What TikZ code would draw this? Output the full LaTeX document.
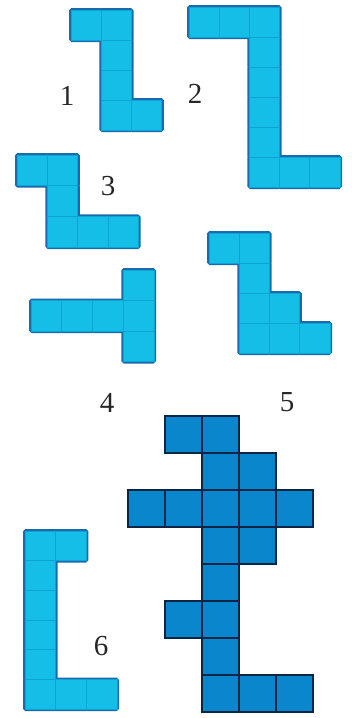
\documentclass[tikz,border=0pt]{standalone}
\usepackage{tikz}
\usepackage{fontspec}
\setmainfont{Liberation Serif}
\definecolor{lfill}{HTML}{14BEE6}
\definecolor{lline}{HTML}{0FA3D2}
\definecolor{lout}{HTML}{1A6AB0}
\definecolor{dfill}{HTML}{0A87CC}
\definecolor{dline}{HTML}{0B2545}
\tikzset{
  lightouter/.style={fill=lfill, draw=lout, line width=4pt, rounded corners=1.2pt},
  lightinner/.style={fill=lfill, draw=lline, line width=0.9pt},
  darkcell/.style={fill=dfill, draw=dline, line width=2pt},
  lbl/.style={font=\fontsize{29}{29}\selectfont, text=black!85, inner sep=0pt}
}
\newcommand\lightpiece[5]{%
  \foreach \c/\r in {#5} \draw[lightouter] ({#1+\c*#3},{#2+\r*#4}) rectangle ++(#3,#4);
  \foreach \c/\r in {#5} \draw[lightinner] ({#1+\c*#3},{#2+\r*#4}) rectangle ++(#3,#4);
}
\begin{document}
\begin{tikzpicture}[x=1pt,y=-1pt]
\useasboundingbox (0,0) rectangle (351,718);
% shape 1
\lightpiece{71}{10}{30.3}{30}{0/0,1/0,1/1,1/2,1/3,2/3}
% shape 2
\lightpiece{189}{7}{30.2}{30}{0/0,1/0,2/0,2/1,2/2,2/3,2/4,2/5,3/5,4/5}
% shape 3
\lightpiece{17}{155}{30.4}{30.7}{0/0,1/0,1/1,1/2,2/2,3/2}
% shape 4
\lightpiece{31}{270}{30.75}{30.5}{3/0,0/1,1/1,2/1,3/1,3/2}
% shape 5
\lightpiece{209}{233}{30.25}{30}{0/0,1/0,1/1,1/2,2/2,1/3,2/3,3/3}
% shape 6
\lightpiece{25}{531}{30.7}{29.7}{0/0,1/0,0/1,0/2,0/3,0/4,0/5,1/5,2/5}
% dark shape
\foreach \c/\r in {1/0,2/0,2/1,3/1,0/2,1/2,2/2,3/2,4/2,2/3,3/3,2/4,1/5,2/5,2/6,2/7,3/7,4/7}
  \draw[darkcell] ({128+\c*37},{416+\r*37}) rectangle ++(37,37);
% labels
\node[lbl] (l1) at (67,96) {1};
\node[lbl] (l2) at (195,94) {2};
\node[lbl] (l3) at (108,186) {3};
\node[lbl] (l4) at (107,403) {4};
\node[lbl] (l5) at (287,402) {5};
\node[lbl] (l6) at (101,646) {6};
\end{tikzpicture}
\end{document}
